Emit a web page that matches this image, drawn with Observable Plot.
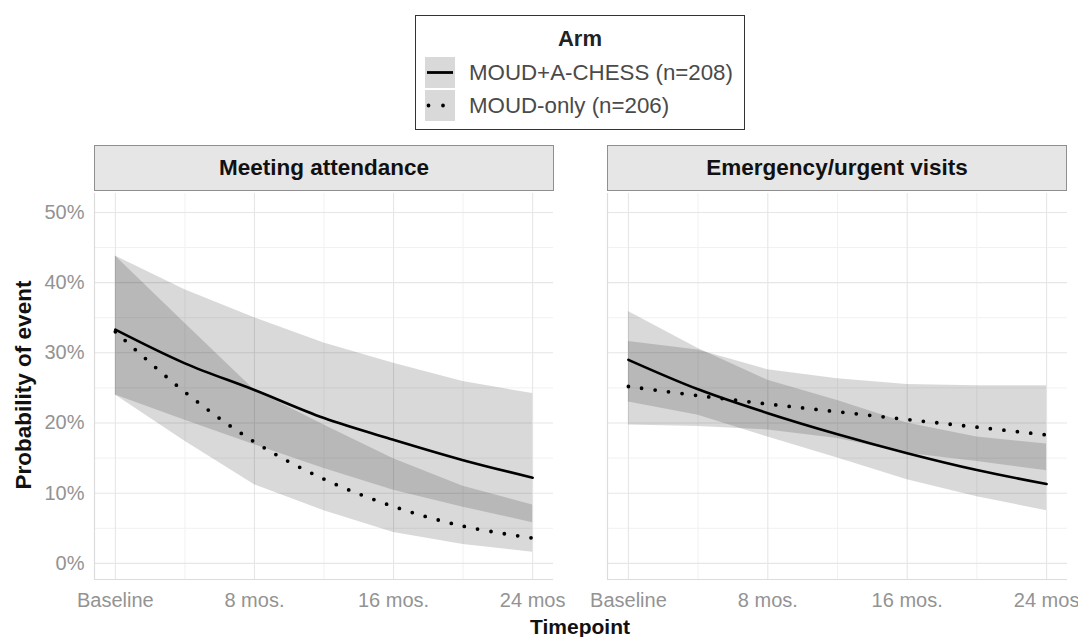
<!DOCTYPE html>
<html>
<head>
<meta charset="utf-8">
<script src="https://cdn.jsdelivr.net/npm/d3@7"></script>
<script src="https://cdn.jsdelivr.net/npm/@observablehq/plot@0.6"></script>
<style>
  html, body { margin: 0; padding: 0; background: #fff; }
  body { font-family: "Liberation Sans", Arial, Helvetica, sans-serif; }
  #root { position: relative; width: 1078px; height: 637px; overflow: hidden; background: #fff; }
  .strip { position: absolute; top: 145px; height: 46px; width: 460px; box-sizing: border-box;
           background: #e6e6e6; border: 1.5px solid #8f8f8f; display: flex; align-items: center;
           justify-content: center; font-weight: bold; font-size: 22.5px; color: #111; }
  .legend { position: absolute; left: 415px; top: 15px; width: 330px; height: 115px; box-sizing: border-box;
            border: 1.5px solid #333; background: #fff; }
  .legtitle { position: absolute; left: 0; width: 100%; top: 10px; text-align: center; font-weight: bold; font-size: 22px; color: #222; }
  .legkey { position: absolute; left: 9px; width: 30px; height: 31px; background: #d9d9d9; }
  .leglabel { position: absolute; left: 53px; font-size: 22.3px; color: #4a4a4a; white-space: nowrap; line-height: 1; }
  .ytitle { position: absolute; left: 24px; top: 385px; transform: translate(-50%, -50%) rotate(-90deg);
            font-weight: bold; font-size: 22.5px; color: #111; white-space: nowrap; }
  .xtitle { position: absolute; left: 580px; top: 627px; transform: translate(-50%, -50%);
            font-weight: bold; font-size: 21px; color: #111; white-space: nowrap; }
  .panelsvg { position: absolute; top: 193px; }
</style>
</head>
<body>
<div id="root"></div>
<script>
// ---------- data ----------
const months = [0, 4, 8, 12, 16, 20, 24];
const tickMonths = [0, 8, 16, 24];
const minorMonths = [4, 12, 20];
const tickLabels = ["Baseline", "8 mos.", "16 mos.", "24 mos"];
const yTicks = [0, 10, 20, 30, 40, 50];
const yMinor = [5, 15, 25, 35, 45];
const arms = ["MOUD+A-CHESS (n=208)", "MOUD-only (n=206)"];
const panels = ["Meeting attendance", "Emergency/urgent visits"];
const legendTitle = "Arm";
const xTitle = "Timepoint";
const yTitle = "Probability of event";

// Meeting attendance (percent)
const meetChessEst = [33.3, 28.5, 24.7, 20.7, 17.6, 14.7, 12.2];
const meetChessLo  = [24.0, 20.4, 16.9, 13.5, 10.4, 8.0, 5.8];
const meetChessHi  = [43.8, 39.0, 35.0, 31.4, 28.5, 25.9, 24.2];
const meetOnlyEst  = [33.0, 24.4, 17.3, 12.0, 8.1, 5.3, 3.6];
const meetOnlyLo   = [24.0, 17.4, 11.2, 7.5, 4.4, 2.7, 1.6];
const meetOnlyHi   = [43.8, 34.2, 24.7, 19.7, 14.9, 11.0, 8.3];

// Emergency/urgent visits (percent)
const erChessEst = [29.0, 24.8, 21.4, 18.4, 15.7, 13.3, 11.3];
const erChessLo  = [23.0, 21.1, 18.0, 15.0, 11.9, 9.5, 7.5];
const erChessHi  = [35.9, 30.6, 26.1, 23.2, 20.0, 18.0, 17.0];
const erOnlyEst  = [25.2, 23.9, 22.7, 21.6, 20.5, 19.4, 18.3];
const erOnlyLo   = [19.7, 19.5, 19.0, 17.8, 15.7, 14.5, 13.2];
const erOnlyHi   = [31.6, 30.4, 27.6, 26.3, 25.5, 25.3, 25.3];

const xDomain = [-1.2, 25.2];
const yDomain = [-2.3, 52.7];

// ---------- helpers ----------
function rows(est, lo, hi, arm) {
  return months.map((m, i) => ({month: m, est: est[i], lo: lo[i], hi: hi[i], arm}));
}
const panelData = [
  rows(meetChessEst, meetChessLo, meetChessHi, arms[0]).concat(rows(meetOnlyEst, meetOnlyLo, meetOnlyHi, arms[1])),
  rows(erChessEst, erChessLo, erChessHi, arms[0]).concat(rows(erOnlyEst, erOnlyLo, erOnlyHi, arms[1]))
];

const root = document.getElementById("root");

function makePanel(data, showY, width, marginLeft, marginRight) {
  const marks = [
    Plot.gridX(minorMonths, {stroke: "#f1f1f1", strokeOpacity: 1, strokeWidth: 1}),
    Plot.gridY(yMinor, {stroke: "#f1f1f1", strokeOpacity: 1, strokeWidth: 1}),
    Plot.gridX(tickMonths, {stroke: "#e6e6e6", strokeOpacity: 1, strokeWidth: 1.1}),
    Plot.gridY(yTicks, {stroke: "#e6e6e6", strokeOpacity: 1, strokeWidth: 1.1}),
    Plot.ruleX([xDomain[0]], {stroke: "#dcdcdc", strokeWidth: 1.2}),
    Plot.ruleY([yDomain[0]], {stroke: "#dcdcdc", strokeWidth: 1.2}),
    Plot.areaY(data, {x: "month", y1: "lo", y2: "hi", z: "arm", fill: "#000", fillOpacity: 0.15, curve: "linear"}),
    Plot.line(data.filter(d => d.arm === arms[0]), {x: "month", y: "est", stroke: "#000", strokeWidth: 2.6, curve: "catmull-rom"}),
    Plot.line(data.filter(d => d.arm === arms[1]), {x: "month", y: "est", stroke: "#000", strokeWidth: 3.8,
      strokeDasharray: "0 13.5", strokeLinecap: "round", curve: "catmull-rom"}),
    Plot.axisX(tickMonths, {tickSize: 0, tickPadding: 13, label: null,
      tickFormat: d => tickLabels[tickMonths.indexOf(d)], fill: "#939393", fontSize: 20})
  ];
  if (showY) {
    marks.push(Plot.axisY(yTicks, {tickSize: 0, tickPadding: 10, label: null,
      tickFormat: d => d + "%", fill: "#939393", fontSize: 20}));
  }
  return Plot.plot({
    width, height: 426,
    marginTop: 0, marginBottom: 40, marginLeft, marginRight,
    x: {domain: xDomain, label: null},
    y: {domain: yDomain, label: null, axis: showY ? undefined : null},
    style: {fontFamily: '"Liberation Sans", Arial, sans-serif', fontSize: "20px", background: "transparent", overflow: "visible"},
    marks
  });
}

// left panel: plot area x 94..553
const left = makePanel(panelData[0], true, 560, 94, 7);
left.classList.add("panelsvg");
left.style.left = "0px";
root.appendChild(left);

// right panel: plot area x 607..1067
const right = makePanel(panelData[1], false, 478, 7, 11);
right.classList.add("panelsvg");
right.style.left = "600px";
root.appendChild(right);

// strips
[[94, panels[0]], [607, panels[1]]].forEach(([x, t]) => {
  const s = document.createElement("div");
  s.className = "strip";
  s.style.left = x + "px";
  s.textContent = t;
  root.appendChild(s);
});

// axis titles
const yt = document.createElement("div");
yt.className = "ytitle"; yt.textContent = yTitle; root.appendChild(yt);
const xt = document.createElement("div");
xt.className = "xtitle"; xt.textContent = xTitle; root.appendChild(xt);

// legend
const leg = document.createElement("div");
leg.className = "legend";
leg.innerHTML = `<div class="legtitle">${legendTitle}</div>`;
const keyTops = [41, 74];
arms.forEach((a, i) => {
  const k = document.createElement("div");
  k.className = "legkey";
  k.style.top = keyTops[i] + "px";
  const svg = d3.create("svg").attr("width", 30).attr("height", 31).style("position", "absolute").style("left", 0).style("top", 0);
  const ln = svg.append("line").attr("x1", 2).attr("x2", 28).attr("y1", 15.5).attr("y2", 15.5).attr("stroke", "#000");
  if (i === 0) ln.attr("stroke-width", 2.8);
  else ln.attr("x1", 3.5).attr("stroke-width", 3.8).attr("stroke-dasharray", "0 14.5").attr("stroke-linecap", "round");
  k.appendChild(svg.node());
  leg.appendChild(k);
  const l = document.createElement("div");
  l.className = "leglabel";
  l.style.top = (keyTops[i] + 5) + "px";
  l.textContent = a;
  leg.appendChild(l);
});
root.appendChild(leg);
</script>
</body>
</html>
